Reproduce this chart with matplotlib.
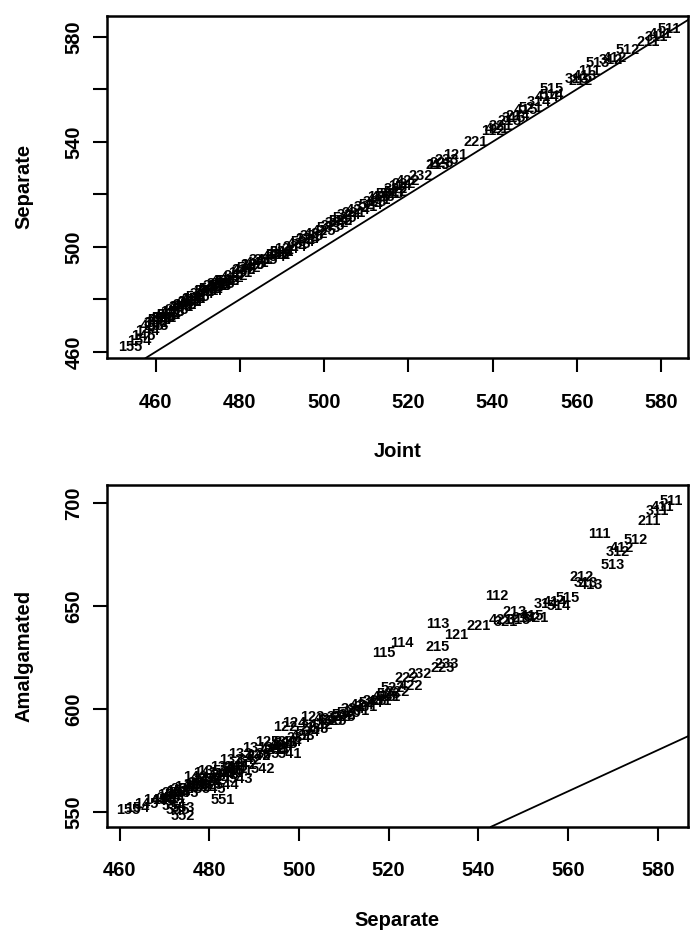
import matplotlib
matplotlib.use("Agg")
import matplotlib.pyplot as plt

plt.rcParams['font.family'] = ['Liberation Sans', 'DejaVu Sans']

# school codes (3 factors, levels 1-5) and the three estimates for each
codes = [
    "111", "211", "311", "411", "511",
    "112", "212", "312", "412", "512",
    "113", "213", "313", "413", "513",
    "114", "214", "314", "414", "514",
    "115", "215", "315", "415", "515",
    "121", "221", "321", "421", "521",
    "122", "222", "322", "422", "522",
    "123", "223", "323", "423", "523",
    "124", "224", "324", "424", "524",
    "125", "225", "325", "425", "525",
    "131", "231", "331", "431", "531",
    "132", "232", "332", "432", "532",
    "133", "233", "333", "433", "533",
    "134", "234", "334", "434", "534",
    "135", "235", "335", "435", "535",
    "141", "241", "341", "441", "541",
    "142", "242", "342", "442", "542",
    "143", "243", "343", "443", "543",
    "144", "244", "344", "444", "544",
    "145", "245", "345", "445", "545",
    "151", "251", "351", "451", "551",
    "152", "252", "352", "452", "552",
    "153", "253", "353", "453", "553",
    "154", "254", "354", "454", "554",
    "155", "255", "355", "455", "555",
]

separate = [
    567, 578, 580, 581, 583,
    544, 563, 571, 572, 575,
    531, 548, 564, 565, 570,
    523, 550, 555, 557, 558,
    519, 531, 549, 552, 560,
    535, 540, 546, 545, 553,
    497, 524, 522, 525, 521,
    503, 532, 517, 519, 520,
    499, 503, 512, 514, 516,
    493, 510, 508, 506, 511,
    490, 513, 515, 518, 520,
    487, 527, 509, 505, 510,
    485, 533, 504, 501, 507,
    483, 500, 498, 496, 502,
    480, 495, 493, 491, 497,
    479, 497, 495, 494, 498,
    477, 491, 489, 488, 492,
    475, 486, 485, 484, 487,
    468, 483, 482, 480, 484,
    466, 479, 478, 477, 481,
    473, 485, 486, 487, 483,
    471, 480, 479, 478, 474,
    470, 477, 476, 475, 474,
    464, 474, 473, 472, 472,
    462, 472, 471, 470, 473,
]

joint = [
    563, 577, 579, 580, 582,
    540, 561, 568, 569, 572,
    527, 544, 560, 562, 565,
    518, 546, 551, 553, 554,
    513, 527, 545, 548, 554,
    531, 536, 542, 541, 549,
    489, 519, 517, 520, 517,
    496, 528, 512, 514, 516,
    491, 496, 506, 508, 511,
    483, 504, 502, 500, 505,
    480, 507, 510, 513, 515,
    477, 523, 503, 498, 504,
    475, 529, 497, 494, 501,
    473, 493, 490, 488, 495,
    469, 486, 483, 481, 489,
    468, 489, 485, 484, 490,
    466, 481, 479, 478, 482,
    464, 476, 475, 473, 477,
    458, 472, 471, 469, 473,
    457, 468, 467, 466, 470,
    462, 474, 475, 476, 472,
    460, 469, 468, 467, 463,
    460, 466, 465, 464, 463,
    456, 463, 462, 461, 461,
    454, 461, 460, 459, 462,
]

amalgamated = [
    685, 691, 696, 698, 701,
    655, 664, 676, 678, 682,
    641, 647, 661, 660, 670,
    632, 644, 651, 652, 650,
    627, 630, 643, 645, 654,
    636, 640, 642, 643, 644,
    591, 615, 608, 611, 610,
    596, 620, 604, 606, 607,
    593, 591, 600, 602, 603,
    584, 596, 594, 595, 598,
    581, 599, 601, 604, 606,
    578, 617, 596, 592, 597,
    575, 622, 590, 587, 594,
    572, 586, 584, 582, 589,
    570, 580, 578, 577, 583,
    569, 584, 581, 580, 578,
    567, 577, 575, 573, 571,
    562, 572, 570, 568, 566,
    556, 568, 566, 564, 563,
    554, 566, 564, 562, 561,
    560, 569, 571, 570, 556,
    558, 566, 563, 562, 548,
    556, 563, 561, 559, 552,
    552, 561, 559, 557, 553,
    551, 559, 557, 556, 551,
]

top_yticks = [460, 480, 500, 520, 540, 560, 580]
top_ylabels = ["460", "", "500", "", "540", "", "580"]
bottom_yticks = [550, 600, 650, 700]
xticks = [460, 480, 500, 520, 540, 560, 580]

fig = plt.figure(figsize=(6.9, 9.3), dpi=100)
ax1 = fig.add_axes([0.155, 0.615, 0.842, 0.368])
ax2 = fig.add_axes([0.155, 0.111, 0.842, 0.367])


def style(ax):
    for s in ax.spines.values():
        s.set_linewidth(1.8)
    ax.tick_params(direction='out', length=10, width=1.5, labelsize=14.5)
    ax.tick_params(axis='x', pad=15)
    ax.tick_params(axis='y', pad=7)
    for lab in ax.get_xticklabels() + ax.get_yticklabels():
        lab.set_fontweight('bold')
    for lab in ax.get_yticklabels():
        lab.set_rotation(90)
        lab.set_va('center')


# Joint vs Separate
for c, x, y in zip(codes, joint, separate):
    ax1.text(x, y, c, ha='center', va='center', fontsize=10.5, fontweight='bold')
ax1.axline((460, 460), (580, 580), color='black', lw=1.3)
ax1.set_xlim(448.4, 586.4)
ax1.set_ylim(457.6, 588)
ax1.set_xticks(xticks)
ax1.set_yticks(top_yticks)
ax1.set_yticklabels(top_ylabels)
ax1.set_xlabel("Joint", fontsize=14.5, fontweight='bold', labelpad=22)
ax1.set_ylabel("Separate", fontsize=14.5, fontweight='bold', labelpad=22)
style(ax1)

# Separate vs Amalgamated
for c, x, y in zip(codes, separate, amalgamated):
    ax2.text(x, y, c, ha='center', va='center', fontsize=10.5, fontweight='bold')
ax2.axline((550, 550), (580, 580), color='black', lw=1.3)
ax2.set_xlim(457.2, 586.7)
ax2.set_ylim(542.8, 708.4)
ax2.set_xticks(xticks)
ax2.set_yticks(bottom_yticks)
ax2.set_xlabel("Separate", fontsize=14.5, fontweight='bold', labelpad=22)
ax2.set_ylabel("Amalgamated", fontsize=14.5, fontweight='bold', labelpad=22)
style(ax2)

fig.savefig("out.png", dpi=100)
